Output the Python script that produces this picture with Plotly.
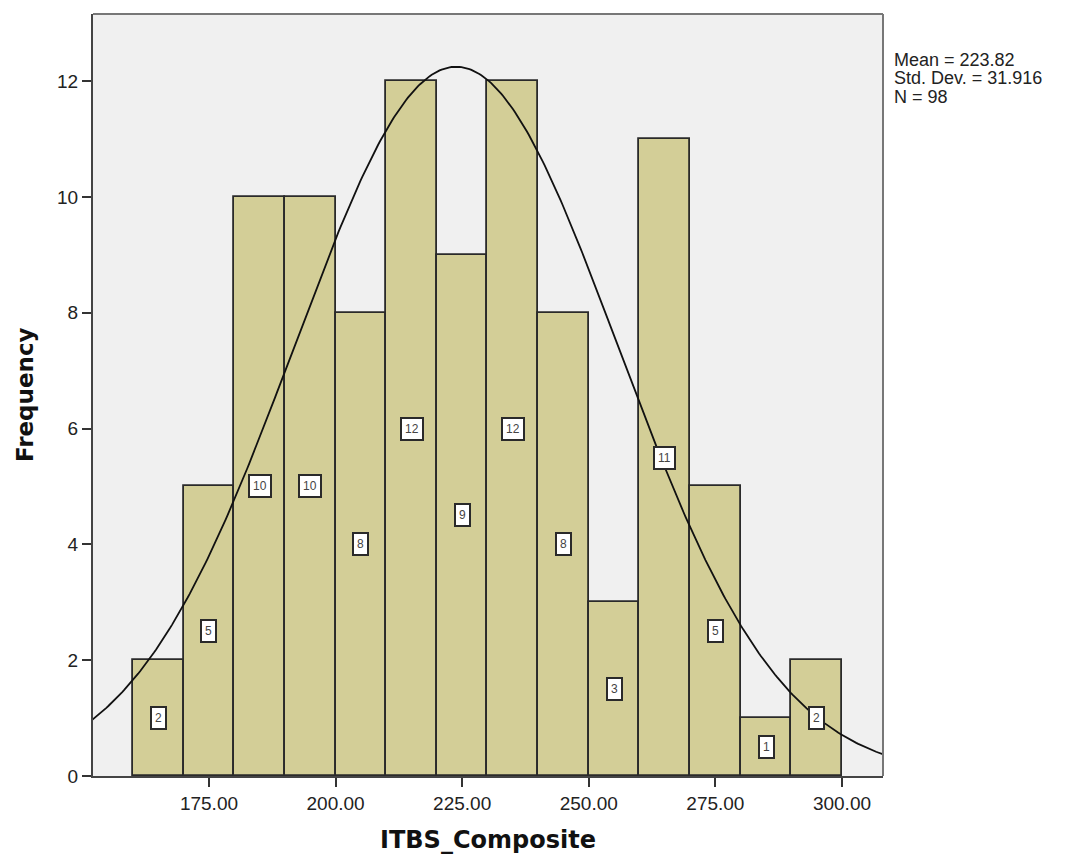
import numpy as np
import plotly.graph_objects as go

bin_starts = [160, 170, 180, 190, 200, 210, 220, 230, 240, 250, 260, 270, 280, 290]
counts = [2, 5, 10, 10, 8, 12, 9, 12, 8, 3, 11, 5, 1, 2]
bin_width = 10
mean_val = 223.82
sd_val = 31.916
n_val = 98
x_ticks = [175, 200, 225, 250, 275, 300]
y_ticks = [0, 2, 4, 6, 8, 10, 12]

centers = [s + bin_width / 2 for s in bin_starts]
FONT = "Liberation Sans, Arial"

fig = go.Figure()
fig.add_trace(go.Bar(
    x=centers, y=counts, width=bin_width,
    marker=dict(color="#D3CE97", line=dict(color="#2a2a2a", width=1.8)),
    hoverinfo="skip", showlegend=False,
))

xs = np.linspace(152, 308.3, 400)
ys = n_val * bin_width / (sd_val * np.sqrt(2 * np.pi)) * np.exp(-0.5 * ((xs - mean_val) / sd_val) ** 2)
fig.add_trace(go.Scatter(x=xs, y=ys, mode="lines", line=dict(color="#111111", width=1.8),
                         hoverinfo="skip", showlegend=False))

for c, v in zip(centers, counts):
    fig.add_annotation(x=c, y=v / 2, text=str(v), showarrow=False,
                       font=dict(family=FONT, size=12, color="#444444"),
                       bgcolor="white", bordercolor="#2a2a2a", borderwidth=2, borderpad=3)

stat_lines = [f"Mean = {mean_val}", f"Std. Dev. = {sd_val}", f"N = {n_val}"]
stat_y = [0.9396, 0.9160, 0.8910]
for txt, yy in zip(stat_lines, stat_y):
    fig.add_annotation(xref="paper", yref="paper", x=1.013, y=yy, xanchor="left", yanchor="middle",
                       showarrow=False, text=txt, borderpad=0,
                       font=dict(family=FONT, size=18, color="#222222"))

fig.add_annotation(xref="paper", yref="paper", x=0.5, y=-0.084, xanchor="center", yanchor="middle",
                   showarrow=False, text="<b>ITBS_Composite</b>",
                   font=dict(family="DejaVu Sans", size=24, color="#111111"))
fig.add_annotation(xref="paper", yref="paper", x=-0.086, y=0.5, xanchor="center", yanchor="middle",
                   showarrow=False, text="<b>Frequency</b>", textangle=-90,
                   font=dict(family="DejaVu Sans", size=23, color="#111111"))

fig.update_layout(
    width=1070, height=855,
    margin=dict(l=85, r=195, t=6, b=87),
    paper_bgcolor="white", plot_bgcolor="#F0F0F0",
    bargap=0,
    font=dict(family=FONT, size=19, color="#222222"),
)
fig.update_xaxes(range=[152.1, 308.1], tickvals=x_ticks,
                 ticktext=[f"{t:.2f}" for t in x_ticks],
                 ticks="outside", ticklen=9, tickwidth=2, tickcolor="#333333",
                 showgrid=False, zeroline=False, automargin=False,
                 showline=True, linecolor="#444444", linewidth=2)
fig.update_yaxes(range=[0, 13.16], tickvals=y_ticks,
                 ticks="outside", ticklen=9, tickwidth=2, tickcolor="#333333",
                 showgrid=False, zeroline=False, automargin=False,
                 showline=True, linecolor="#444444", linewidth=2)
fig.add_shape(type="line", xref="paper", yref="paper", x0=0, x1=1, y0=1, y1=1,
              line=dict(color="#777777", width=2))
fig.add_shape(type="line", xref="paper", yref="paper", x0=1, x1=1, y0=0, y1=1,
              line=dict(color="#777777", width=2))

fig.write_html("out.html")
